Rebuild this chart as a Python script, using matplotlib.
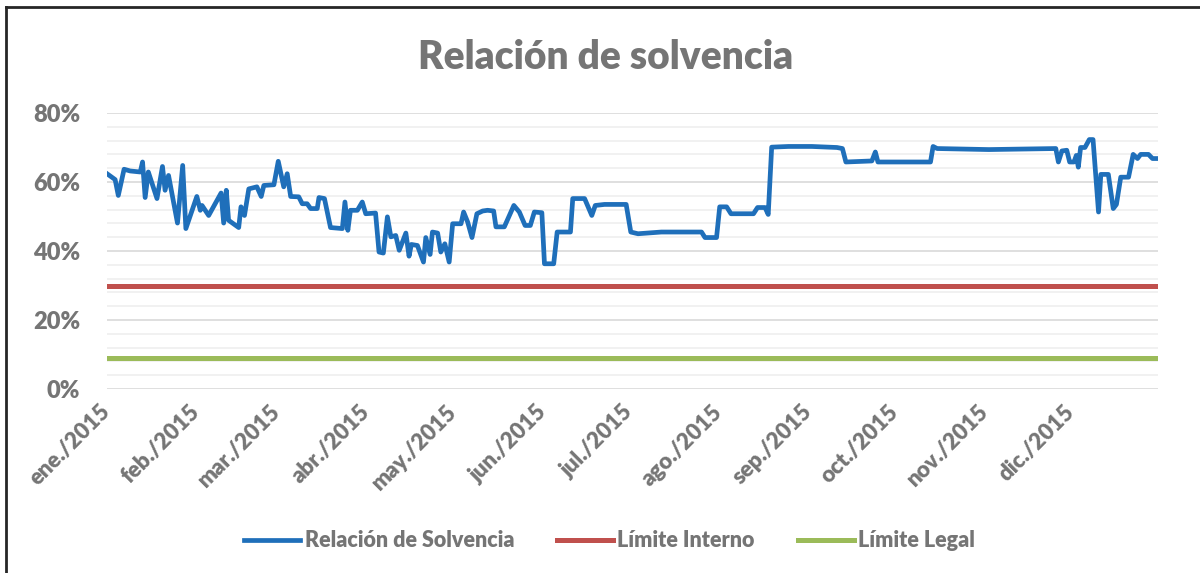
import datetime as dt
import numpy as np
import matplotlib
matplotlib.use('Agg')
import matplotlib.pyplot as plt
import matplotlib.dates as mdates
from matplotlib.lines import Line2D
from matplotlib.ticker import MultipleLocator, FuncFormatter

plt.rcParams['font.family'] = ['Lato', 'DejaVu Sans']

# days counted from 1 Jan 2015, values in %
dias = [0, 2.8, 3.9, 5.9, 8, 11.5, 12.3, 13.2, 14.3, 17.3, 19.2, 20.1, 21.3, 24.4,
        26.2, 27.3, 31.1, 32.3, 32.9, 35.2, 39.5, 40.4, 41.3, 42.1, 45.6, 46.4,
        47.6, 49.1, 51.9, 53.4, 54.3, 57.8, 59.3, 61.2, 62.4, 63.6, 66.4, 67.6,
        69.3, 70.5, 72.8, 73.4, 75.3, 77.4, 81.5, 82.4, 83.4, 84.3, 86.7, 88.4,
        89.6, 93.0, 94.2, 95.7, 97.1, 98.3, 100.0, 101.2, 103.5, 104.6, 105.4,
        107.5, 109.6, 110.4, 111.9, 112.7, 114.5, 115.6, 117.0, 118.5, 119.7,
        122.6, 123.5, 124.9, 126.4, 128.1, 130.1, 131.8, 133.9, 134.7, 137.6,
        140.9, 142.8, 144.8, 146.6, 148.0, 150.6, 151.5, 154.7, 155.9, 160.5,
        161.3, 165.4, 167.9, 169.1, 172.3, 179.8, 181.4, 183.9, 192.0, 205.9,
        207.1, 211.1, 212.2, 214.6, 216.1, 223.9, 225.3, 227.9, 229.0, 230.2,
        236.0, 244.1, 252.8, 254.7, 255.9, 264.9, 266.1, 267.0, 285.2, 286.1,
        287.5, 305.4, 328.6, 329.5, 330.7, 332.4, 333.4, 334.9, 335.7, 336.4,
        337.2, 338.7, 340.2, 341.5, 343.4, 344.2, 346.8, 348.5, 349.6, 351.1,
        353.8, 355.4, 356.9, 358.0, 360.7, 362.1, 364]
solvencia = [62.4, 60.7, 56.1, 63.7, 63.2, 62.9, 65.8, 55.5, 62.9, 55.2, 64.5, 57.6,
             61.9, 48.1, 64.8, 46.5, 55.8, 51.8, 53.2, 50.3, 56.8, 48.1, 57.6, 48.9,
             46.8, 52.8, 50.3, 58.0, 58.6, 55.8, 59.0, 59.2, 66.0, 58.6, 62.4, 55.8,
             55.7, 53.7, 53.7, 52.3, 52.3, 55.5, 55.2, 46.8, 46.5, 54.2, 46.0, 51.8,
             51.8, 54.2, 50.8, 51.0, 39.7, 39.4, 49.9, 44.1, 44.5, 40.2, 45.2, 38.5,
             41.9, 41.6, 36.8, 43.9, 39.0, 45.5, 45.2, 39.7, 42.1, 36.8, 47.9, 47.9,
             51.3, 48.4, 43.9, 50.8, 51.6, 51.8, 51.6, 47.0, 47.0, 53.2, 51.3, 47.4,
             47.4, 51.3, 51.1, 36.3, 36.3, 45.5, 45.5, 55.2, 55.2, 50.3, 53.2, 53.5,
             53.5, 45.5, 45.0, 45.5, 45.5, 43.9, 43.9, 52.8, 52.8, 50.8, 50.8, 52.6,
             52.6, 50.6, 70.1, 70.3, 70.3, 70.0, 69.7, 65.8, 66.1, 68.7, 65.8, 65.8,
             70.3, 69.7, 69.4, 69.7, 65.8, 69.0, 69.2, 65.8, 65.8, 67.7, 64.3, 70.0,
             70.0, 72.3, 72.3, 51.3, 62.2, 62.2, 52.3, 53.5, 61.4, 61.4, 68.0, 66.8,
             68.0, 68.0, 66.8, 66.8]
limite_interno = 30
limite_legal = 9
meses = ['ene.', 'feb.', 'mar.', 'abr.', 'may.', 'jun.', 'jul.', 'ago.',
         'sep.', 'oct.', 'nov.', 'dic.']

gris = '#757575'
inicio = mdates.date2num(dt.datetime(2015, 1, 1))
fin = mdates.date2num(dt.datetime(2015, 12, 31))
x = inicio + np.array(dias)

fig = plt.figure(figsize=(12, 5.73), dpi=100)
ax = fig.add_axes([0.0892, 0.3211, 0.8758, 0.4817])

ax.plot(x, solvencia, color='#1F6FBA', lw=3.4, solid_joinstyle='round',
        label='Relación de Solvencia', zorder=3)
ax.plot([inicio, fin], [limite_interno] * 2, color='#C0504D', lw=3.6,
        label='Límite Interno', zorder=3)
ax.plot([inicio, fin], [limite_legal] * 2, color='#9BBB59', lw=3.6,
        label='Límite Legal', zorder=3)

ax.set_xlim(inicio, fin)
ax.set_ylim(0, 80)
ax.yaxis.set_major_locator(MultipleLocator(20))
ax.yaxis.set_minor_locator(MultipleLocator(4))
ax.yaxis.set_major_formatter(FuncFormatter(lambda v, p: f'{v:.0f}%'))
ax.grid(axis='y', which='major', color='#D9D9D9', lw=1.2, zorder=0)
ax.grid(axis='y', which='minor', color='#EFEFEF', lw=1.2, zorder=0)

ax.xaxis.set_major_locator(mdates.MonthLocator())
ax.xaxis.set_major_formatter(
    FuncFormatter(lambda v, p: meses[mdates.num2date(v).month - 1] + '/2015'))

for s in ax.spines.values():
    s.set_visible(False)
ax.tick_params(axis='both', which='both', length=0, colors=gris, labelsize=16)
ax.tick_params(axis='y', pad=19.5, labelsize=17)
for lbl in ax.get_yticklabels():
    lbl.set_fontweight('heavy')
for lbl in ax.get_xticklabels():
    lbl.set_fontweight('heavy')
    lbl.set_rotation(45)
    lbl.set_ha('right')
    lbl.set_va('center')
    lbl.set_rotation_mode('anchor')
ax.tick_params(axis='x', pad=14)

fig.text(0.505, 0.9, 'Relación de solvencia', ha='center', va='center',
         fontsize=28, fontweight='heavy', color=gris)

leg = fig.legend(loc='center', bbox_to_anchor=(0.508, 0.056), ncol=3,
                 frameon=False, fontsize=15.5, handlelength=2.6,
                 handletextpad=0.2, columnspacing=2.0)
for t in leg.get_texts():
    t.set_color(gris)
    t.set_fontweight('heavy')

# chart border (only left and top are inside the picture)
fig.add_artist(Line2D([6 / 1200, 6 / 1200], [0, 1 - 7 / 573], color='#262626', lw=2))
fig.add_artist(Line2D([6 / 1200, 1], [1 - 7 / 573, 1 - 7 / 573], color='#262626', lw=2))

fig.savefig('out.png', dpi=100)
